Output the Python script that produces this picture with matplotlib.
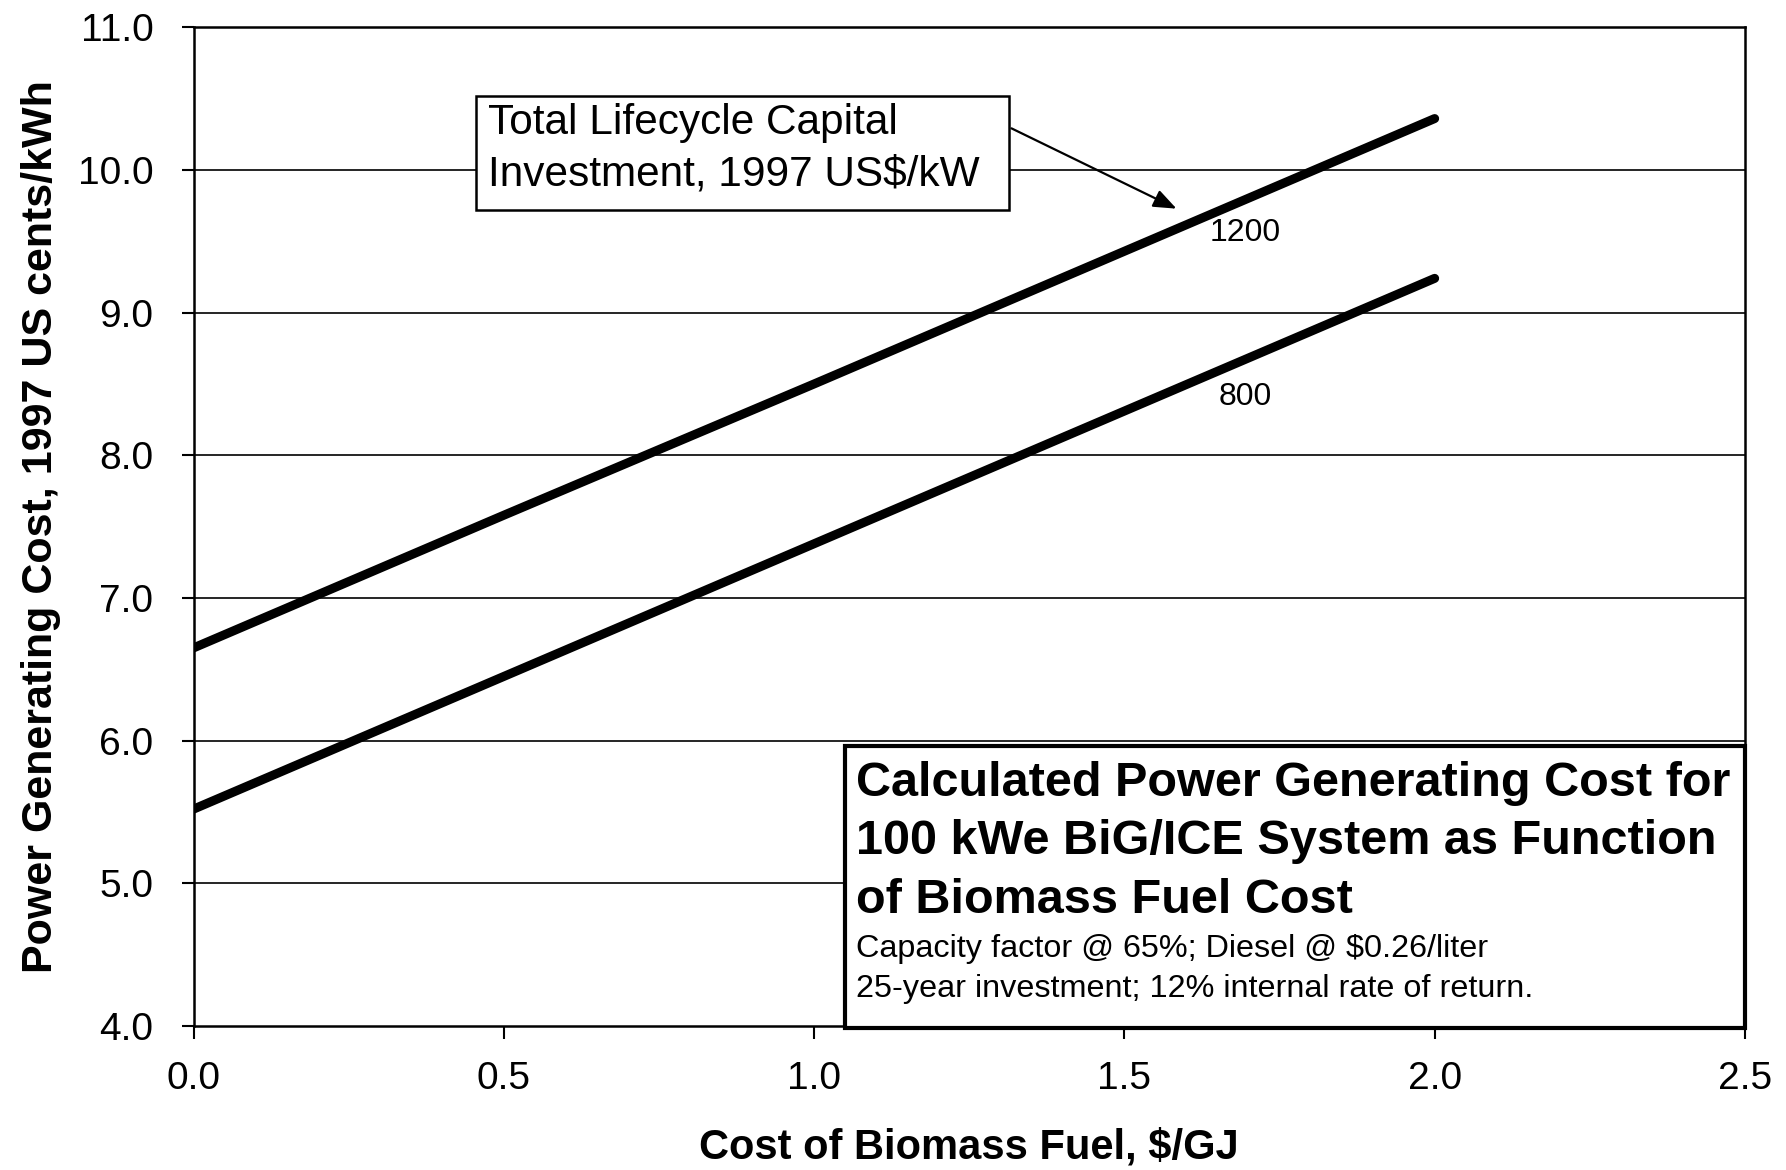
import matplotlib
matplotlib.use("Agg")
import matplotlib.pyplot as plt
from matplotlib.patches import Rectangle

fuel_cost = [0.0, 0.5, 1.0, 1.5, 2.0]
cost_1200 = [6.65, 7.58, 8.50, 9.43, 10.36]
cost_800 = [5.52, 6.45, 7.38, 8.31, 9.24]
series_labels = ["1200", "800"]
x_ticks = [0.0, 0.5, 1.0, 1.5, 2.0, 2.5]
y_ticks = [4.0, 5.0, 6.0, 7.0, 8.0, 9.0, 10.0, 11.0]

FONT = ["Liberation Sans Narrow", "Liberation Sans", "DejaVu Sans"]
plt.rcParams['font.family'] = FONT

fig = plt.figure(figsize=(17.86, 11.70), dpi=100)
ax = fig.add_axes([0.1084, 0.1231, 0.8686, 0.8536])

ax.set_xlim(0, 2.5)
ax.set_ylim(4, 11)
ax.set_xticks(x_ticks)
ax.set_xticklabels([f"{v:.1f}" for v in x_ticks])
ax.set_yticks(y_ticks)
ax.set_yticklabels([f"{v:.1f}" for v in y_ticks])
for y in y_ticks[1:-1]:
    ax.axhline(y, color="black", lw=1.2, zorder=1)

ax.plot(fuel_cost, cost_1200, color="black", lw=6.5, solid_capstyle="round", zorder=3)
ax.plot(fuel_cost, cost_800, color="black", lw=6.5, solid_capstyle="round", zorder=3)

for s in ax.spines.values():
    s.set_linewidth(1.8)
ax.tick_params(axis="both", direction="out", length=9, width=1.5, labelsize=28, colors="black")
ax.tick_params(axis="y", pad=20)
ax.tick_params(axis="x", pad=16)

ax.set_xlabel("Cost of Biomass Fuel, $/GJ", fontsize=30, fontweight="bold", labelpad=22)
ax.set_ylabel("Power Generating Cost, 1997 US cents/kWh", fontsize=31, fontweight="bold", labelpad=12)

# series labels
ax.text(1.694, 9.56, series_labels[0], fontsize=23, ha="center", va="center")
ax.text(1.694, 8.41, series_labels[1], fontsize=23, ha="center", va="center")

# annotation box
ax.add_patch(Rectangle((0.455, 9.72), 1.314 - 0.455, 10.52 - 9.72, facecolor="white",
                       edgecolor="black", lw=1.8, zorder=4))
ax.text(0.474, 10.33, "Total Lifecycle Capital", fontsize=30.5, ha="left", va="center", zorder=5)
ax.text(0.474, 9.97, "Investment, 1997 US$/kW", fontsize=30.5, ha="left", va="center", zorder=5)
ax.annotate("", xy=(1.588, 9.72), xytext=(1.314, 10.30),
            arrowprops=dict(arrowstyle="-|>,head_length=1.4,head_width=0.55", color="black", lw=1.6),
            zorder=5)

# title box
ax.add_patch(Rectangle((1.05, 3.985), 2.5 - 1.05, 5.96 - 3.985, facecolor="white",
                       edgecolor="black", lw=3.0, zorder=4, clip_on=False))
title_lines = ["Calculated Power Generating Cost for",
               "100 kWe BiG/ICE System as Function",
               "of Biomass Fuel Cost"]
for yy, t in zip([5.70, 5.29, 4.88], title_lines):
    ax.text(1.068, yy, t, fontsize=35, fontweight="bold", ha="left", va="center", zorder=5)
ax.text(1.068, 4.54, "Capacity factor @ 65%; Diesel @ $0.26/liter", fontsize=23.3, ha="left", va="center", zorder=5)
ax.text(1.068, 4.26, "25-year investment; 12% internal rate of return.", fontsize=23.3, ha="left", va="center", zorder=5)

fig.savefig("out.png", dpi=100)
